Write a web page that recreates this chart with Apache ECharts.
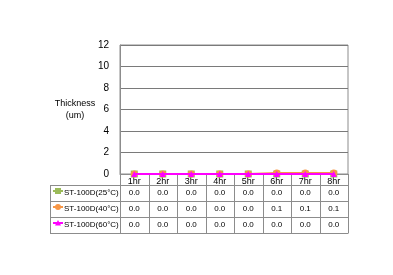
<!DOCTYPE html>
<html>
<head>
<meta charset="utf-8">
<script src="https://cdn.jsdelivr.net/npm/echarts@6/dist/echarts.min.js"></script>
<style>
    html, body { margin: 0; padding: 0; background: #fff; }
    #main { width: 393px; height: 275px; }
</style>
</head>
<body>
<div id="main"></div>
<script>
    // 数据
    var categories = ['1hr', '2hr', '3hr', '4hr', '5hr', '6hr', '7hr', '8hr'];
    var seriesNames = ['ST-100D(25°C)', 'ST-100D(40°C)', 'ST-100D(60°C)'];
    var data25 = [0.0, 0.0, 0.0, 0.0, 0.0, 0.0, 0.0, 0.0];
    var data40 = [0.0, 0.0, 0.0, 0.0, 0.0, 0.1, 0.1, 0.1];
    var data60 = [0.0, 0.0, 0.0, 0.0, 0.0, 0.0, 0.0, 0.0];
    var yTicks = [0, 2, 4, 6, 8, 10, 12];

    var colors = ['#9BBB59', '#F79646', '#FF00FF'];
    var symbols = ['rect', 'circle', 'triangle'];
    var allData = [data25, data40, data60];
    var fontFam = '"Liberation Sans", "Noto Sans", sans-serif';
    var lineColor = '#8c8c8c';

    var gridLeft = 120, gridRight = 348, gridTop = 45, gridBottom = 174;
    var tableTop = 185, rowH = 16, tableLeft = 50;

    var myChart = echarts.init(document.getElementById('main'));

    var series = [];
    for (var i = 0; i < 3; i++) {
        series.push({
            name: seriesNames[i],
            type: 'line',
            data: allData[i],
            symbol: symbols[i],
            symbolSize: i == 2 ? 6 : 7,
            lineStyle: { color: colors[i], width: 2 },
            itemStyle: { color: colors[i] },
            animation: false,
            z: 3 + i
        });
    }

    var option = {
        animation: false,
        grid: {
            left: gridLeft, right: 393 - gridRight, top: gridTop, bottom: 275 - gridBottom,
            show: true, borderColor: lineColor, borderWidth: 1
        },
        xAxis: {
            type: 'category',
            data: categories,
            boundaryGap: true,
            axisLine: { lineStyle: { color: lineColor } },
            axisTick: { show: false },
            axisLabel: { fontSize: 9, color: '#000', fontFamily: fontFam, margin: 3 }
        },
        yAxis: {
            type: 'value',
            min: yTicks[0],
            max: yTicks[yTicks.length - 1],
            interval: 2,
            name: 'Thickness\n(um)',
            nameLocation: 'middle',
            nameRotate: 0,
            nameGap: 45,
            nameMoveOverlap: false,
            nameTextStyle: { fontSize: 9, color: '#000', fontFamily: fontFam, lineHeight: 12, align: 'center' },
            axisLine: { show: true, lineStyle: { color: lineColor } },
            axisTick: { show: false },
            axisLabel: { fontSize: 10, color: '#000', fontFamily: fontFam, margin: 11 },
            splitLine: { lineStyle: { color: '#7a7a7a' } }
        },
        series: series
    };
    myChart.setOption(option);

    // 数据表格
    function buildTable() {
        var els = [];
        var n = categories.length;
        var colW = (gridRight - gridLeft) / n;
        var tableBottom = tableTop + rowH * 3;
        var ls = { stroke: lineColor, lineWidth: 1 };

        // 横线
        els.push({ type: 'line', shape: { x1: tableLeft, y1: tableTop + 0.5, x2: gridRight, y2: tableTop + 0.5 }, style: ls });
        for (var r = 1; r <= 3; r++) {
            var yy = tableTop + rowH * r + 0.5;
            els.push({ type: 'line', shape: { x1: tableLeft, y1: yy, x2: gridRight, y2: yy }, style: ls });
        }
        // 竖线
        els.push({ type: 'line', shape: { x1: tableLeft + 0.5, y1: tableTop, x2: tableLeft + 0.5, y2: tableBottom + 0.5 }, style: ls });
        for (var c = 0; c <= n; c++) {
            var xx = Math.round(gridLeft + colW * c) + 0.5;
            if (c == n) xx = gridRight + 0.5;
            els.push({ type: 'line', shape: { x1: xx, y1: gridBottom, x2: xx, y2: tableBottom + 0.5 }, style: ls });
        }
        // 图例和数值
        for (var s = 0; s < 3; s++) {
            var cy = tableTop + rowH * s + rowH / 2;
            els.push({ type: 'line', shape: { x1: 53, y1: cy - 2, x2: 63, y2: cy - 2 }, style: { stroke: colors[s], lineWidth: 2 } });
            if (symbols[s] == 'rect') {
                els.push({ type: 'rect', shape: { x: 55, y: cy - 5, width: 6, height: 6 }, style: { fill: colors[s] } });
            } else if (symbols[s] == 'circle') {
                els.push({ type: 'circle', shape: { cx: 58, cy: cy - 2, r: 3 }, style: { fill: colors[s] } });
            } else {
                els.push({ type: 'polygon', shape: { points: [[58, cy - 5], [61, cy + 0.5], [55, cy + 0.5]] }, style: { fill: colors[s] } });
            }
            els.push({
                type: 'text', x: 64, y: cy, style: {
                    text: seriesNames[s], fontSize: 8, fill: '#000', fontFamily: fontFam,
                    verticalAlign: 'middle', align: 'left'
                }
            });
            for (var k = 0; k < n; k++) {
                var px = myChart.convertToPixel({ xAxisIndex: 0 }, categories[k]);
                els.push({
                    type: 'text', x: px, y: cy, style: {
                        text: allData[s][k].toFixed(1), fontSize: 8, fill: '#000', fontFamily: fontFam,
                        verticalAlign: 'middle', align: 'center'
                    }
                });
            }
        }
        myChart.setOption({ graphic: { elements: els } });
    }
    buildTable();
</script>
</body>
</html>
